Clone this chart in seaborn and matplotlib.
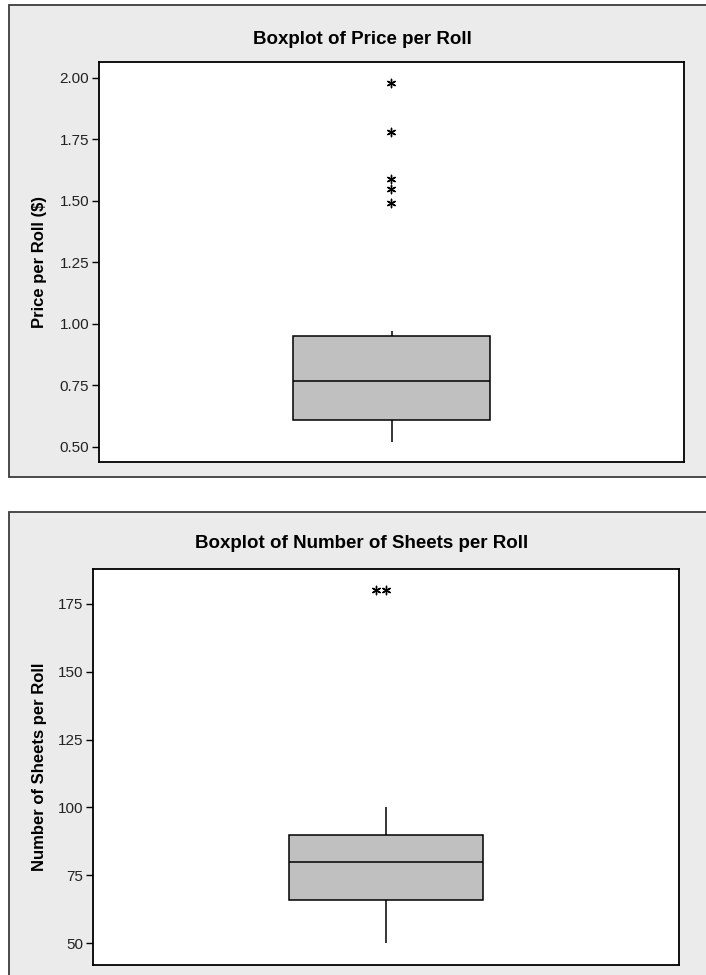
import numpy as np
import matplotlib
matplotlib.use("Agg")
import matplotlib.pyplot as plt
from matplotlib.patches import Rectangle
import seaborn as sns

# price per roll ($)
price = [0.52, 0.55, 0.57, 0.58, 0.59, 0.60, 0.61, 0.64, 0.67, 0.70, 0.72, 0.75, 0.77,
         0.79, 0.82, 0.85, 0.88, 0.92, 0.95, 0.97, 1.49, 1.55, 1.59, 1.78, 1.98]
# number of sheets per roll
sheets = [50, 55, 58, 60, 62, 64, 66, 68, 70, 72, 75, 78, 80, 82, 84, 85, 88, 89, 90,
          92, 95, 98, 100, 180, 180]

price_ticks = [0.50, 0.75, 1.00, 1.25, 1.50, 1.75, 2.00]
sheet_ticks = [50, 75, 100, 125, 150, 175]

sns.set_theme(style="white")
plt.rcParams["font.family"] = ["Liberation Sans", "DejaVu Sans"]

W, H = 706, 975
fig = plt.figure(figsize=(W / 100, H / 100), dpi=100)
fig.patch.set_facecolor("white")


def outliers(vals):
    q1, q3 = np.percentile(vals, [25, 75])
    iqr = q3 - q1
    return [v for v in vals if v > q3 + 1.5 * iqr or v < q1 - 1.5 * iqr]


def panel(top, bottom):
    # grey minitab style background with dark border
    r = Rectangle((9 / W, 1 - bottom / H), 1.2, (bottom - top) / H,
                  transform=fig.transFigure, facecolor="#ebebeb",
                  edgecolor="#3c3c3c", lw=1.3, zorder=-10)
    fig.patches.append(r)


def draw(ax, vals, ticks, ylim, ylabel, fmt, width, labx):
    sns.boxplot(y=vals, ax=ax, width=width, showfliers=False, showcaps=False,
                color="#c0c0c0", linecolor="black", linewidth=1.1,
                boxprops=dict(facecolor="#c0c0c0", edgecolor="black"),
                medianprops=dict(color="black", linewidth=1.1),
                whiskerprops=dict(color="black", linewidth=1.1))
    sns.swarmplot(y=outliers(vals), ax=ax, marker=(6, 2, 0), size=6,
                  color="black", linewidth=1.0, zorder=5)
    ax.set_xlim(-0.5, 0.5)
    ax.set_ylim(*ylim)
    ax.set_yticks(ticks)
    ax.set_yticklabels([fmt.format(t) for t in ticks])
    ax.set_xticks([])
    ax.set_xlabel("")
    ax.set_ylabel(ylabel, fontsize=12, fontweight="bold", va="center", color="black")
    ax.yaxis.set_label_coords(labx, 0.5)
    ax.tick_params(axis="y", left=True, length=5, width=1, pad=2,
                   labelsize=11, colors="black", labelcolor="#222222")
    ax.set_facecolor("white")
    for s in ax.spines.values():
        s.set_color("black")
        s.set_linewidth(1.3)


# top panel
panel(5, 477)
ax1 = fig.add_axes([99 / W, 1 - 462 / H, 585 / W, 400 / H])
draw(ax1, price, price_ticks, (0.439, 2.065), "Price per Roll ($)", "{:.2f}",
     0.337, (40 - 99) / 585)
fig.text(362 / W, 1 - 40 / H, "Boxplot of Price per Roll", ha="center",
         va="center", fontsize=13.5, fontweight="bold", color="black")

# bottom panel
panel(512, 1000)
ax2 = fig.add_axes([93 / W, 1 - 965 / H, 586 / W, 396 / H])
draw(ax2, sheets, sheet_ticks, (41.9, 187.9), "Number of Sheets per Roll", "{:.0f}",
     0.331, (40 - 93) / 586)
fig.text(362 / W, 1 - 543 / H, "Boxplot of Number of Sheets per Roll", ha="center",
         va="center", fontsize=13.5, fontweight="bold", color="black")

fig.savefig("out.png", dpi=100)
